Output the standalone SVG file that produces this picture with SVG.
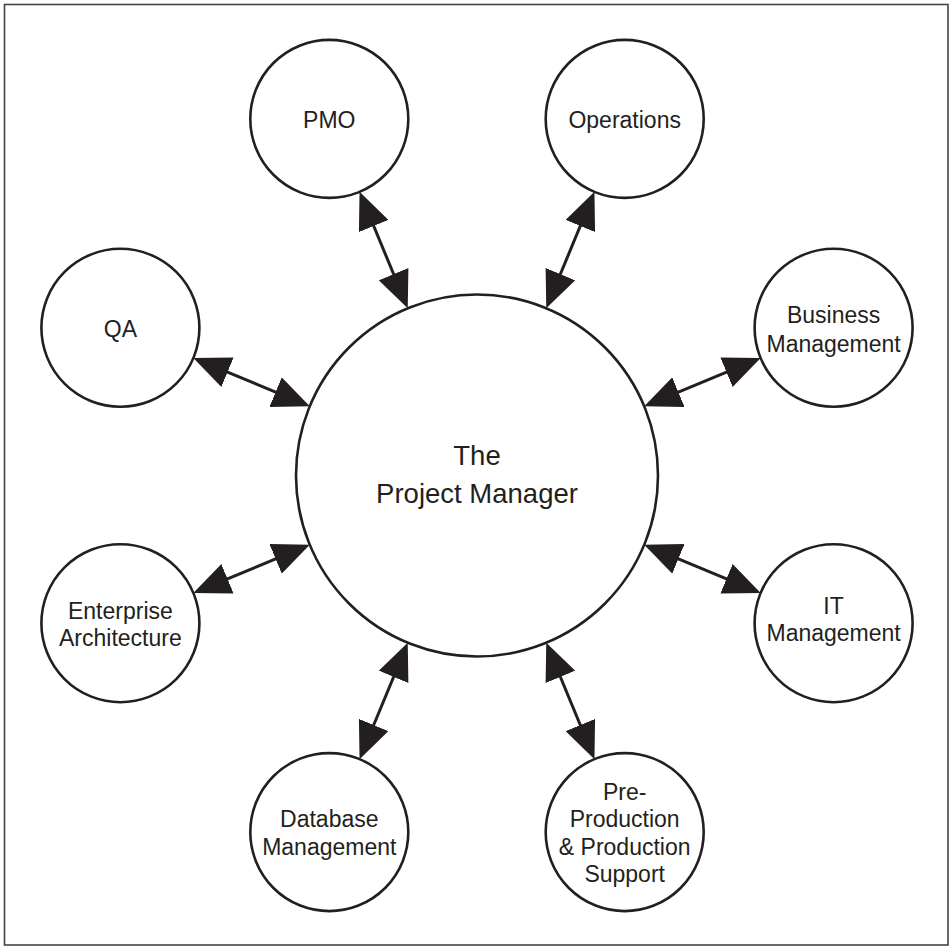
<svg xmlns="http://www.w3.org/2000/svg" width="950" height="946" viewBox="0 0 950 946">
  <style>
    .frame { fill: #ffffff; stroke: #444444; stroke-width: 1.6; }
    .node circle { fill: #ffffff; stroke: #231f20; stroke-width: 2.6; }
    .node text { font-family: "Liberation Sans", Arial, Helvetica, sans-serif; font-size: 23px; fill: #231f20; text-anchor: middle; }
    #pm text { font-size: 27.5px; }
    .link { stroke: #231f20; stroke-width: 3; fill: none; marker-start: url(#head); marker-end: url(#head); }
  </style>
  <defs>
    <!-- shaft stops 20px short of the tip; refX places the tip at the true end -->
    <marker id="head" viewBox="0 0 37 32" refX="17" refY="16" markerWidth="37" markerHeight="32" markerUnits="userSpaceOnUse" orient="auto-start-reverse">
      <path d="M0,0 L37,16 L0,32 Z" fill="#231f20"/>
    </marker>
  </defs>

  <rect class="frame" x="4.5" y="4.5" width="943.5" height="940.5"/>

  <!-- two-headed connectors between the centre and each satellite -->
  <g id="connectors">
    <line class="link" x1="400.1" y1="289.8" x2="367.2" y2="210.3"/>
    <line class="link" x1="553.9" y1="289.8" x2="586.8" y2="210.3"/>
    <line class="link" x1="400.1" y1="661.2" x2="367.2" y2="740.7"/>
    <line class="link" x1="553.9" y1="661.2" x2="586.8" y2="740.7"/>
    <line class="link" x1="291.3" y1="398.6" x2="211.8" y2="365.7"/>
    <line class="link" x1="662.7" y1="398.6" x2="742.2" y2="365.7"/>
    <line class="link" x1="291.3" y1="552.4" x2="211.8" y2="585.3"/>
    <line class="link" x1="662.7" y1="552.4" x2="742.2" y2="585.3"/>
  </g>

  <g id="pm" class="node">
    <circle cx="477" cy="475.5" r="181"/>
    <text x="477" y="464.5">The</text>
    <text x="477" y="503.3">Project Manager</text>
  </g>

  <g id="pmo" class="node">
    <circle cx="329.3" cy="118.9" r="79"/>
    <text x="329.3" y="127.5">PMO</text>
  </g>

  <g id="operations" class="node">
    <circle cx="624.7" cy="118.9" r="79"/>
    <text x="624.7" y="127.5">Operations</text>
  </g>

  <g id="qa" class="node">
    <circle cx="120.4" cy="327.8" r="79"/>
    <text x="120.4" y="336.5">QA</text>
  </g>

  <g id="business" class="node">
    <circle cx="833.6" cy="327.8" r="79"/>
    <text x="833.6" y="323.3">Business</text>
    <text x="833.6" y="351.5">Management</text>
  </g>

  <g id="enterprise" class="node">
    <circle cx="120.4" cy="623.2" r="79"/>
    <text x="120.4" y="619">Enterprise</text>
    <text x="120.4" y="646">Architecture</text>
  </g>

  <g id="it" class="node">
    <circle cx="833.6" cy="623.2" r="79"/>
    <text x="833.6" y="614">IT</text>
    <text x="833.6" y="641">Management</text>
  </g>

  <g id="database" class="node">
    <circle cx="329.3" cy="832.1" r="79"/>
    <text x="329.3" y="827.3">Database</text>
    <text x="329.3" y="855">Management</text>
  </g>

  <g id="production" class="node">
    <circle cx="624.7" cy="832.1" r="79"/>
    <text x="624.7" y="800">Pre-</text>
    <text x="624.7" y="827.3">Production</text>
    <text x="624.7" y="855">&amp; Production</text>
    <text x="624.7" y="881.7">Support</text>
  </g>
</svg>
